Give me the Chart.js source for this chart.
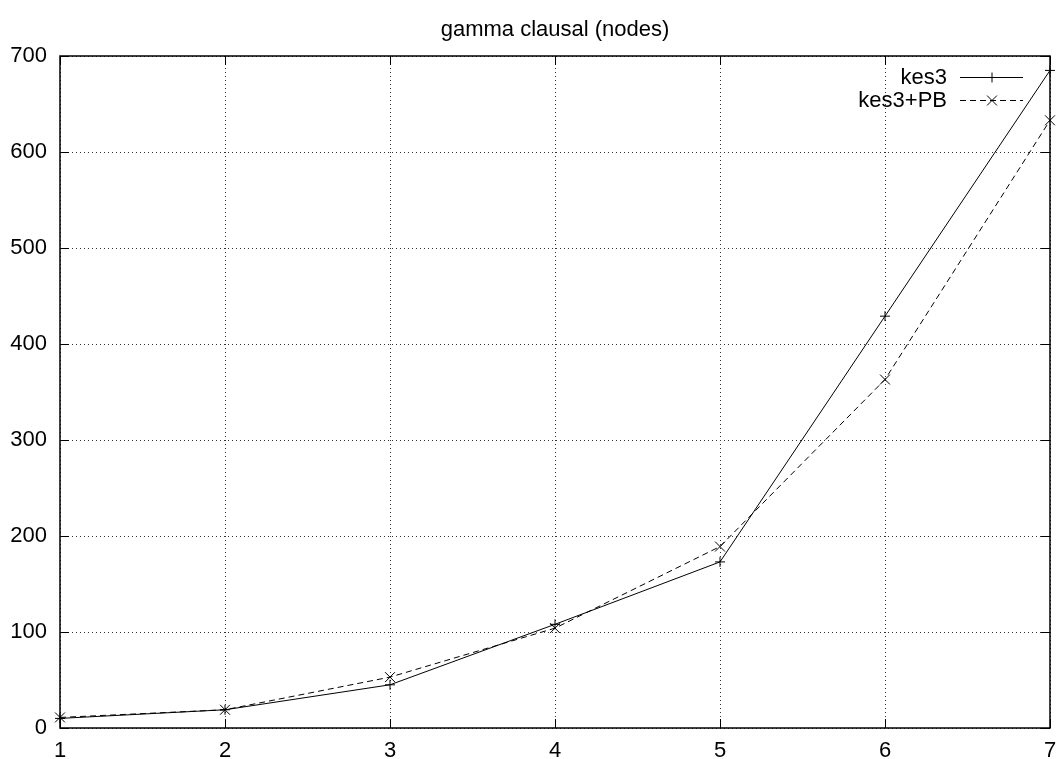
<!DOCTYPE html>
<html>
<head>
<meta charset="utf-8">
<script src="https://cdn.jsdelivr.net/npm/chart.js@4"></script>
<style>
  html, body { margin: 0; padding: 0; background: #fff; }
  #wrap { width: 1059px; height: 759px; position: relative; }
</style>
</head>
<body>
<div id="wrap"><canvas id="plot"></canvas></div>
<script>
// gnuplot-like line plot: node counts per size
const titleText = 'gamma clausal (nodes)';
const sizes = ['1', '2', '3', '4', '5', '6', '7'];
const kes3Nodes = [10, 19, 45, 108, 173, 429, 685];
const kes3PbNodes = [11, 19, 53, 104, 189, 363, 633];
const seriesNames = ['kes3', 'kes3+PB'];

const FONT = "22px 'Liberation Sans', Arial, sans-serif";

// border, inward tick marks, title and key drawn over the chart area
const gnuplotFrame = {
    id: 'gnuplotFrame',
    afterDatasetsDraw(chart) {
        const { ctx, chartArea: a, scales } = chart;
        ctx.save();
        ctx.strokeStyle = '#000';

        // tick marks on all four sides
        ctx.lineWidth = 1;
        ctx.beginPath();
        scales.y.ticks.forEach(t => {
            const y = Math.round(scales.y.getPixelForValue(t.value)) + 0.5;
            ctx.moveTo(a.left, y); ctx.lineTo(a.left + 9, y);
            ctx.moveTo(a.right, y); ctx.lineTo(a.right - 9, y);
        });
        scales.x.ticks.forEach((t, i) => {
            const x = Math.round(scales.x.getPixelForValue(i)) + 0.5;
            ctx.moveTo(x, a.bottom); ctx.lineTo(x, a.bottom - 9);
            ctx.moveTo(x, a.top); ctx.lineTo(x, a.top + 9);
        });
        ctx.stroke();

        // frame
        ctx.lineWidth = 1.5;
        ctx.strokeRect(a.left, a.top, a.right - a.left, a.bottom - a.top);

        // title, centred over the plot area
        ctx.fillStyle = '#000';
        ctx.font = FONT;
        ctx.textAlign = 'center';
        ctx.textBaseline = 'alphabetic';
        ctx.fillText(titleText, (a.left + a.right) / 2, 36);

        // key in the top right corner
        chart.data.datasets.forEach((ds, i) => {
            const y = a.top + 21 + i * 23;
            ctx.textAlign = 'right';
            ctx.textBaseline = 'middle';
            ctx.fillText(seriesNames[i], a.right - 103, y + 1);
            ctx.lineWidth = 1;
            ctx.setLineDash(ds.borderDash || []);
            ctx.beginPath();
            ctx.moveTo(a.right - 90, y + 0.5);
            ctx.lineTo(a.right - 27, y + 0.5);
            ctx.stroke();
            ctx.setLineDash([]);
            Chart.helpers.drawPoint(ctx, {
                pointStyle: ds.pointStyle,
                radius: ds.pointRadius,
                rotation: 0,
                borderWidth: 1
            }, a.right - 58, y + 0.5);
        });
        ctx.restore();
    }
};

new Chart(document.getElementById('plot'), {
    type: 'line',
    data: {
        labels: sizes,
        datasets: [{
            label: seriesNames[0],
            data: kes3Nodes,
            borderColor: '#000',
            backgroundColor: '#000',
            borderWidth: 1,
            pointStyle: 'cross',
            pointRadius: 5,
            pointBorderWidth: 1,
            tension: 0
        }, {
            label: seriesNames[1],
            data: kes3PbNodes,
            borderColor: '#000',
            backgroundColor: '#000',
            borderWidth: 1,
            borderDash: [6, 4],
            pointStyle: 'crossRot',
            pointRadius: 7,
            pointBorderWidth: 1,
            tension: 0
        }]
    },
    options: {
        responsive: true,
        maintainAspectRatio: false,
        animation: false,
        layout: { padding: { top: 56, right: 9, left: 0, bottom: 0 } },
        plugins: {
            legend: { display: false },
            title: { display: false },
            tooltip: { enabled: false }
        },
        scales: {
            x: {
                type: 'category',
                offset: false,
                grid: { color: '#333', lineWidth: 1, drawTicks: false },
                border: { display: false, dash: [1, 3] },
                ticks: { color: '#000', font: { family: "'Liberation Sans', Arial, sans-serif", size: 22 }, padding: 10, maxRotation: 0 },
                afterFit: (scale) => {
                    scale.height = 31;
                    scale.paddingLeft = 0;
                    scale.paddingRight = 0;
                }
            },
            y: {
                min: 0,
                max: 700,
                grid: { color: '#333', lineWidth: 1, drawTicks: false },
                border: { display: false, dash: [1, 3] },
                ticks: { stepSize: 100, color: '#000', font: { family: "'Liberation Sans', Arial, sans-serif", size: 22 }, padding: 13 },
                afterFit: (scale) => {
                    scale.width = 60;
                    scale.paddingTop = 0;
                    scale.paddingBottom = 0;
                }
            }
        }
    },
    plugins: [gnuplotFrame]
});
</script>
</body>
</html>
